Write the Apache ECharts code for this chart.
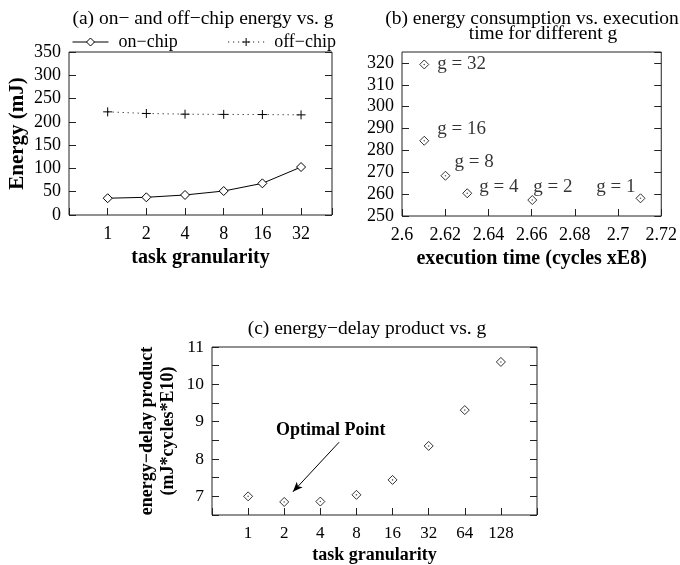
<!DOCTYPE html>
<html>
<head>
<meta charset="utf-8">
<script src="https://cdn.jsdelivr.net/npm/echarts@6/dist/echarts.min.js"></script>
<style>
html, body { margin: 0; background: #fff; }
#main { width: 680px; height: 565px; }
</style>
</head>
<body>
<div id="main"></div>
<script>
// (a) on- and off-chip energy
const granA = ['1', '2', '4', '8', '16', '32'];
const onChip = [36, 38, 43, 51.5, 68, 103];
const offChip = [221.5, 218, 216.5, 216, 215.7, 215];

// (b) energy vs execution time
const gLabels = ['32', '16', '8', '4', '2', '1'];
const execTime = [2.6103, 2.6103, 2.6201, 2.6302, 2.6603, 2.7104];
const energyB = [319.3, 284.4, 268.4, 260.4, 257.3, 258.1];

// (c) energy-delay product
const granC = ['1', '2', '4', '8', '16', '32', '64', '128'];
const edp = [7.0, 6.85, 6.86, 7.04, 7.44, 8.35, 9.31, 10.6];

const FONT = 'Liberation Serif';
const INK = '#000';
const AXC = '#222';
const PLUS = 'path://M0,5L10,5M5,0L5,10';

// offsets of the "g = x" labels in (b), in px from the point
const labelOffsets = [[13, 0], [13, -12], [9, -14], [12, -6], [1, -13], [-5, -11]];

let dom = document.getElementById('main');
let myChart = echarts.init(dom);

function tickLabel(arr) {
    return function(v) {
        let i = Math.round(v) - 1;
        return (Math.abs(v - Math.round(v)) < 1e-6 && arr[i]) ? arr[i] : '';
    };
}

function xAx(grid, min, max, interval, fmt, name, fs, nfs, gap) {
    return {
        type: 'value', gridIndex: grid, min: min, max: max, interval: interval,
        position: 'bottom',
        axisLine: { show: false },
        axisTick: { show: true, inside: true, length: 7, lineStyle: { color: AXC } },
        splitLine: { show: false },
        axisLabel: { formatter: fmt, color: INK, fontFamily: FONT, fontSize: fs, margin: 10 },
        name: name, nameLocation: 'middle', nameGap: gap,
        nameTextStyle: { color: INK, fontFamily: FONT, fontSize: nfs, fontWeight: 'bold' }
    };
}

function yAx(grid, min, max, interval, fmt, fs, name, nfs, gap, mirror) {
    return {
        type: 'value', gridIndex: grid, min: min, max: max, interval: interval,
        position: mirror ? 'right' : 'left',
        axisLine: { show: false },
        axisTick: { show: true, inside: true, length: 7, lineStyle: { color: AXC } },
        splitLine: { show: false },
        axisLabel: { show: !mirror, formatter: fmt, color: INK, fontFamily: FONT, fontSize: fs, margin: 8,
                     showMaxLabel: max % interval == 0 },
        name: mirror ? '' : name, nameLocation: 'middle', nameGap: gap,
        nameTextStyle: { color: INK, fontFamily: FONT, fontSize: nfs, fontWeight: 'bold', lineHeight: 21 }
    };
}

function titleAt(text, x, y, fs) {
    return { text: text, left: x, top: y, textAlign: 'center',
             textStyle: { fontFamily: FONT, fontSize: fs, fontWeight: 'normal', color: INK } };
}

let gridStyle = { show: true, borderColor: AXC, borderWidth: 1, backgroundColor: 'transparent' };
let hollow = { color: '#fff', borderColor: INK, borderWidth: 1 };

let option = {
    animation: false,
    backgroundColor: '#fff',
    textStyle: { fontFamily: FONT },
    title: [
        titleAt('(a) on\u2212 and off\u2212chip energy vs. g', 198, 4, 19.5),
        titleAt('(b) energy consumption vs. execution', 527, 4, 19.5),
        titleAt('time for different g', 538, 19, 19.5),
        titleAt('(c) energy\u2212delay product vs. g', 362, 314, 19.5)
    ],
    legend: {
        data: ['on\u2212chip', 'off\u2212chip'],
        left: 67, top: 28, itemWidth: 36, itemHeight: 10, itemGap: 50,
        lineStyle: { width: 1 },
        itemStyle: { borderWidth: 1 },
        textStyle: { fontFamily: FONT, fontSize: 18, color: INK, padding: [0, 0, 0, 5] }
    },
    grid: [
        Object.assign({ left: 69, top: 52, width: 263, height: 163 }, gridStyle),
        Object.assign({ left: 402, top: 52, width: 272, height: 164 }, gridStyle),
        Object.assign({ left: 212, top: 347, width: 325, height: 169 }, gridStyle)
    ],
    xAxis: [
        xAx(0, 0, 6.8, 1, tickLabel(granA), 'task granularity', 18, 20, 33),
        xAx(1, 2.6, 2.72, 0.02, v => String(+v.toFixed(2)), 'execution time (cycles xE8)', 18, 20, 33),
        xAx(2, 0, 9, 1, tickLabel(granC), 'task granularity', 17, 18, 31)
    ],
    yAxis: [
        yAx(0, 0, 350, 50, null, 18, 'Energy (mJ)', 21, 41, false),
        yAx(0, 0, 350, 50, null, 18, '', 21, 0, true),
        yAx(1, 250, 325, 10, null, 18, '', 20, 0, false),
        yAx(1, 250, 325, 10, null, 18, '', 20, 0, true),
        yAx(2, 6.5, 11, 0.5, v => (Math.abs(v - Math.round(v)) < 1e-6 ? String(Math.round(v)) : ''), 17.5,
            'energy\u2212delay product\n(mJ*cycles*E10)', 18, 33, false),
        yAx(2, 6.5, 11, 0.5, null, 17, '', 18, 0, true)
    ],
    series: [
        {
            name: 'on\u2212chip', type: 'line', xAxisIndex: 0, yAxisIndex: 0,
            data: onChip.map((v, i) => [i + 1, v]),
            symbol: 'diamond', symbolSize: 9,
            lineStyle: { color: INK, width: 1 },
            itemStyle: hollow
        },
        {
            name: 'off\u2212chip', type: 'line', xAxisIndex: 0, yAxisIndex: 0,
            data: offChip.map((v, i) => [i + 1, v]),
            symbol: PLUS, symbolSize: 9,
            lineStyle: { color: INK, width: 1, type: [1, 4] },
            itemStyle: { color: 'none', borderColor: INK, borderWidth: 1 }
        },
        {
            name: 'energy', type: 'scatter', xAxisIndex: 1, yAxisIndex: 2,
            data: execTime.map((t, i) => ({
                value: [t, energyB[i]],
                label: {
                    show: true, position: 'inside',
                    align: i == 5 ? 'right' : 'left', verticalAlign: 'middle',
                    offset: labelOffsets[i],
                    formatter: 'g = ' + gLabels[i]
                }
            })),
            symbol: 'diamond', symbolSize: 9,
            itemStyle: hollow,
            label: { color: INK, fontFamily: FONT, fontSize: 19 }
        },
        {
            // centre dots of the diamonds in (b)
            type: 'scatter', xAxisIndex: 1, yAxisIndex: 2, silent: true,
            data: execTime.map((t, i) => [t, energyB[i]]),
            symbol: 'circle', symbolSize: 1.6, itemStyle: { color: '#333' }
        },
        {
            name: 'edp', type: 'scatter', xAxisIndex: 2, yAxisIndex: 4,
            data: edp.map((v, i) => [i + 1, v]),
            symbol: 'diamond', symbolSize: 9,
            itemStyle: hollow,
            markLine: {
                silent: true, symbol: ['none', 'arrow'], symbolSize: [6, 10],
                lineStyle: { color: INK, width: 1, type: 'solid' },
                label: { show: false },
                data: [[{ coord: [3.52, 8.45] }, { coord: [2.24, 7.12] }]]
            },
            markPoint: {
                silent: true, symbol: 'circle', symbolSize: 0,
                itemStyle: { color: 'transparent' },
                label: { show: true, position: 'inside', formatter: 'Optimal Point',
                         color: INK, fontFamily: FONT, fontSize: 18, fontWeight: 'bold' },
                data: [{ coord: [3.29, 8.77] }]
            }
        },
        {
            // centre dots of the diamonds in (c)
            type: 'scatter', xAxisIndex: 2, yAxisIndex: 4, silent: true,
            data: edp.map((v, i) => [i + 1, v]),
            symbol: 'circle', symbolSize: 1.6, itemStyle: { color: '#333' }
        }
    ]
};

if (option && typeof option === "object") {
    myChart.setOption(option, true);
}
</script>
</body>
</html>
